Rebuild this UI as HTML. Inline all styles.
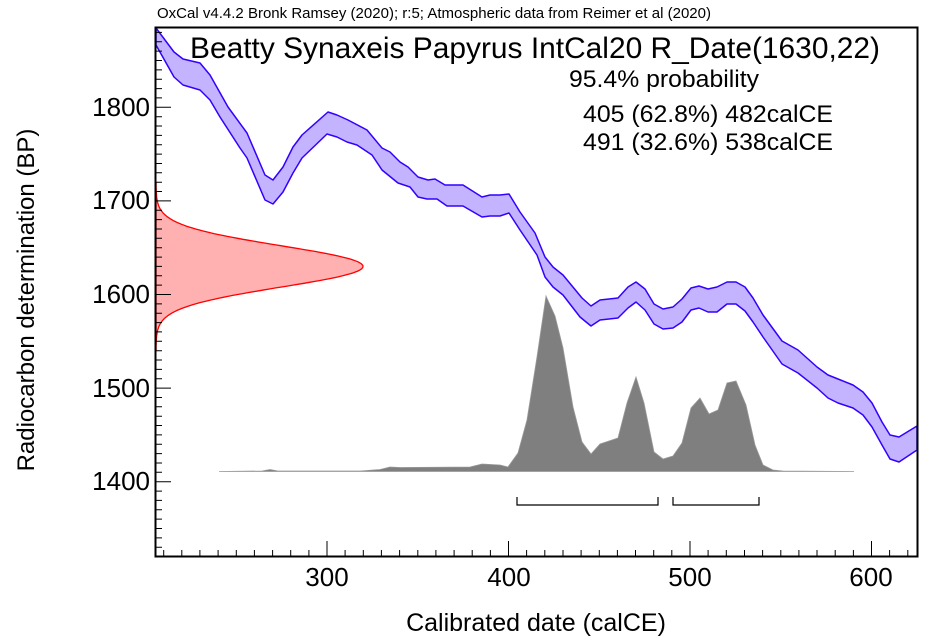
<!DOCTYPE html>
<html><head><meta charset="utf-8"><style>
body{margin:0;background:#fff;width:925px;height:644px;overflow:hidden}
svg{display:block;font-family:"Liberation Sans",Arial,sans-serif}
</style></head><body>
<svg id="s" width="925" height="644" viewBox="0 0 925 644">
<path id="red" fill="#ffb0b0" stroke="#ff0000" stroke-width="1.3"/>
<path fill="#c4b4ff" stroke="#3300ff" stroke-width="1.5" stroke-linejoin="round" d="M156,28 L174,52 183,59 200,63 210,75 228,107 247,133 265,175 273,180 283,167 293,147 302,135 328,112 337,115 348,120 367,130 382,148 390,152 400,162 408,167 418,177 428,180 435,179 445,185 463,185 482,197 490,195 500,195 509,194 520,212 535,233 545,257 553,267 563,275 582,298 591,306 600,300 618,298 628,287 636,282 645,289 654,304 663,309 673,307 682,299 691,288 699,286 708,289 717,287 727,282 736,282 745,287 753,298 763,315 782,341 798,350 817,367 828,375 838,379 853,385 863,392 872,403 882,422 890,435 899,437 917,426 L917,450 899,462 890,459 882,445 872,427 863,415 853,408 838,403 828,398 817,388 798,373 782,364 763,337 753,322 745,311 736,304 727,304 717,312 708,312 699,308 691,310 682,322 673,328 663,329 654,324 645,310 636,302 628,308 618,318 600,320 591,326 580,317 563,295 553,287 545,277 537,255 520,230 509,213 500,216 490,216 482,217 463,206 447,206 437,199 427,199 418,197 410,187 398,183 382,170 372,155 357,145 347,142 337,137 327,134 302,158 293,173 283,192 273,204 265,200 247,158 240,148 220,117 210,100 200,90 183,85 174,77 156,45 Z"/>
<path fill="#7f7f7f" stroke="#999" stroke-width="0.8" d="M219,471.5 L262,471 270,469.5 278,471 360,471 380,469.5 390,467 400,467.5 470,467 482,464 500,465 508,467 518,453 527,420 537,357 546,296 555,316 563,348 573,407 582,442 591,454 600,444 618,438 627,403 636,377 644,403 654,452 663,459 673,456 682,443 691,408 700,398 709,414 718,410 727,383 736,381 746,405 755,445 763,465 773,470 783,471 854,471.5 L219,471.5 Z"/>
<g stroke="#000" stroke-width="1.2" fill="none">
<path d="M517,497 V505 H658 V497 M673,497 V505 H759 V497"/>
</g>
<g id="ticks" stroke="#000" stroke-width="1"></g>
<rect x="155.5" y="27.5" width="762" height="529" fill="none" stroke="#000" stroke-width="2"/>
<text x="157" y="18" font-size="15" textLength="554" lengthAdjust="spacingAndGlyphs">OxCal v4.4.2 Bronk Ramsey (2020); r:5; Atmospheric data from Reimer et al (2020)</text>
<text x="190" y="58" font-size="30" textLength="690" lengthAdjust="spacingAndGlyphs">Beatty Synaxeis Papyrus IntCal20 R_Date(1630,22)</text>
<text x="569" y="87" font-size="24.5" textLength="190" lengthAdjust="spacingAndGlyphs">95.4% probability</text>
<text x="583" y="122" font-size="24.5" textLength="250" lengthAdjust="spacingAndGlyphs">405 (62.8%) 482calCE</text>
<text x="583" y="150" font-size="24.5" textLength="250" lengthAdjust="spacingAndGlyphs">491 (32.6%) 538calCE</text>
<g font-size="26" text-anchor="end">
<text x="150" y="116">1800</text><text x="150" y="209">1700</text><text x="150" y="303">1600</text><text x="150" y="397">1500</text><text x="150" y="490">1400</text>
</g>
<g font-size="26" text-anchor="middle">
<text x="327" y="586">300</text><text x="509" y="586">400</text><text x="690" y="586">500</text><text x="871" y="586">600</text>
</g>
<text x="536" y="631" font-size="25" text-anchor="middle">Calibrated date (calCE)</text>
<text transform="translate(34,300) rotate(-90)" font-size="24" text-anchor="middle">Radiocarbon determination (BP)</text>
</svg>
<script>
var g=document.getElementById('ticks'),d='';
function X(v){return 327+(v-300)*1.815}
function Y(v){return 481.7-(v-1400)*0.936}
for(var v=210;v<=620;v+=10){var x=X(v).toFixed(1),L=(v%100==0)?15:6;d+='M'+x+',556V'+(556-L);}
for(var v=1330;v<=1880;v+=10){var y=Y(v).toFixed(1),L=(v%100==0)?15:6;d+='M156,'+y+'H'+(156+L);}
var p=document.createElementNS('http://www.w3.org/2000/svg','path');p.setAttribute('d',d);g.appendChild(p);
var r='M156,'+Y(1720).toFixed(1);
for(var c=1720;c>=1540;c-=1){var dx=207*Math.exp(-Math.pow(c-1630,2)/(2*22*22));r+=' L'+(156+dx).toFixed(1)+','+Y(c).toFixed(1);}
r+=' Z';document.getElementById('red').setAttribute('d',r);
</script>
</body></html>
